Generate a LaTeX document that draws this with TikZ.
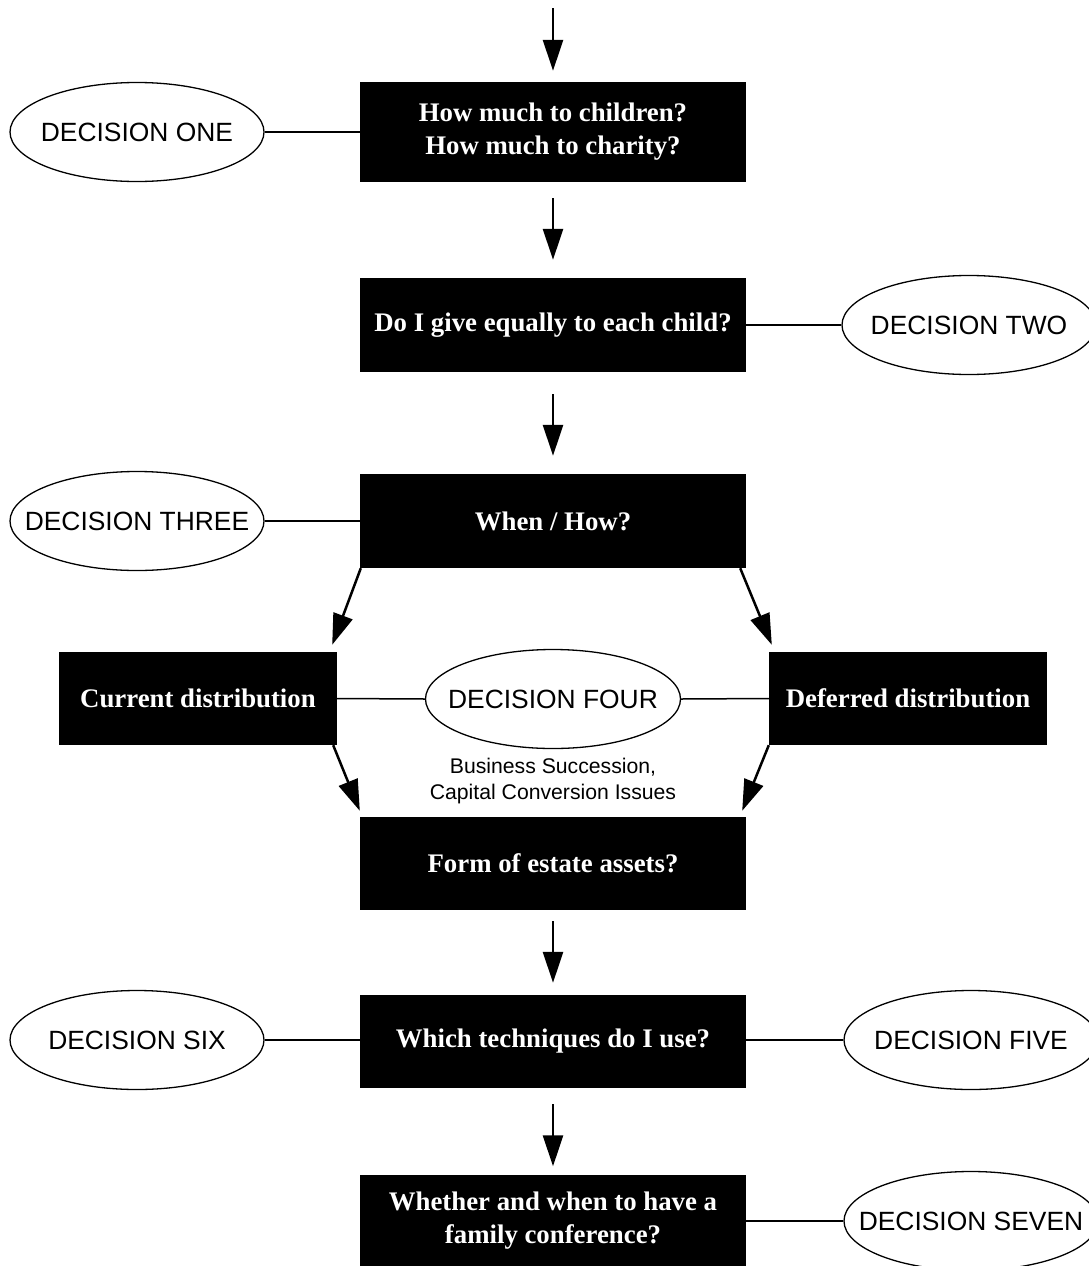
\documentclass[tikz,border=0pt]{standalone}
\usepackage{fontspec}
\setmainfont{Liberation Serif}
\newfontfamily\arialf{Liberation Sans}
\usetikzlibrary{shapes.geometric,arrows.meta}
\newcommand\declabel[1]{\makebox[0pt][c]{#1}}
\begin{document}
\begin{tikzpicture}[x=1pt,y=-1pt,
  qbox/.style={fill=black,text=white,minimum width=386pt,minimum height=94pt,inner sep=0pt,align=center,font=\fontsize{26.8}{33}\selectfont\bfseries},
  sidebox/.style={qbox,minimum width=278pt,minimum height=93pt},
  dec/.style={ellipse,draw,line width=1.3pt,fill=white,minimum width=254pt,minimum height=99pt,inner sep=0pt,font=\arialf\fontsize{26.4}{30}\selectfont},
  link/.style={line width=1.5pt},
  arr/.style={line width=2.5pt,-{Triangle[length=31pt,width=20pt]}}]
\useasboundingbox (0,0) rectangle (1089,1266);
\clip (0,0) rectangle (1089,1266);

% question boxes
\node[qbox,minimum height=100pt] (b1) at (553,132) {How much to children?\\How much to charity?};
\node[qbox] (b2) at (553,325) {Do I give equally to each child?};
\node[qbox] (b3) at (553,521) {When / How?};
\node[sidebox] (cur) at (198,698.5) {Current distribution};
\node[sidebox] (def) at (908,698.5) {Deferred distribution};
\node[qbox,minimum height=93pt] (b4) at (553,863.5) {Form of estate assets?};
\node[qbox,minimum height=93pt] (b5) at (553,1041.5) {Which techniques do I use?};
\node[qbox,minimum height=93pt] (b6) at (553,1221) {Whether and when to have a\\family conference?};

% decision ellipses
\node[dec] (d1) at (137,132) {\declabel{DECISION ONE}};
\node[dec] (d2) at (969,325) {\declabel{DECISION TWO}};
\node[dec] (d3) at (137,521) {\declabel{DECISION THREE}};
\node[dec,minimum width=255pt] (d4) at (553,699) {\declabel{DECISION FOUR}};
\node[dec] (d5) at (971,1040) {\declabel{DECISION FIVE}};
\node[dec] (d6) at (137,1040) {\declabel{DECISION SIX}};
\node[dec] (d7) at (971,1221) {\declabel{DECISION SEVEN}};

\node[align=center,inner sep=0pt,font=\arialf\fontsize{21.2}{26}\selectfont] (note) at (553,781)
  {Business Succession,\\Capital Conversion Issues};

% links
\draw[link] (d1.east) -- (b1.west);
\draw[link] (b2.east) -- (d2.west);
\draw[link] (d3.east) -- (b3.west);
\draw[link] (cur.east) -- (d4.west);
\draw[link] (d4.east) -- (def.west);
\draw[link] (d6.east) -- (d6.east -| b5.west);
\draw[link] (d5.west -| b5.east) -- (d5.west);
\draw[link] (b6.east) -- (d7.west);

% arrows
\coordinate (top) at (553,8);
\draw[arr] (top) -- ([yshift=11pt]b1.north);
\draw[arr] ([yshift=-16pt]b1.south) -- ([yshift=18pt]b2.north);
\draw[arr] ([yshift=-22pt]b2.south) -- ([yshift=18pt]b3.north);
\draw[arr] ([xshift=1pt]b3.south west) -- ([shift={(-5pt,7pt)}]cur.north east);
\draw[arr] ([xshift=-6pt]b3.south east) -- ([shift={(3pt,7pt)}]def.north west);
\draw[arr] ([xshift=-4pt]cur.south east) -- ([yshift=6pt]b4.north west);
\draw[arr] ([xshift=0pt]def.south west) -- ([shift={(-4pt,6pt)}]b4.north east);
\draw[arr] ([yshift=-11pt]b4.south) -- ([yshift=12pt]b5.north);
\draw[arr] ([yshift=-16pt]b5.south) -- ([yshift=8pt]b6.north);
\end{tikzpicture}
\end{document}
